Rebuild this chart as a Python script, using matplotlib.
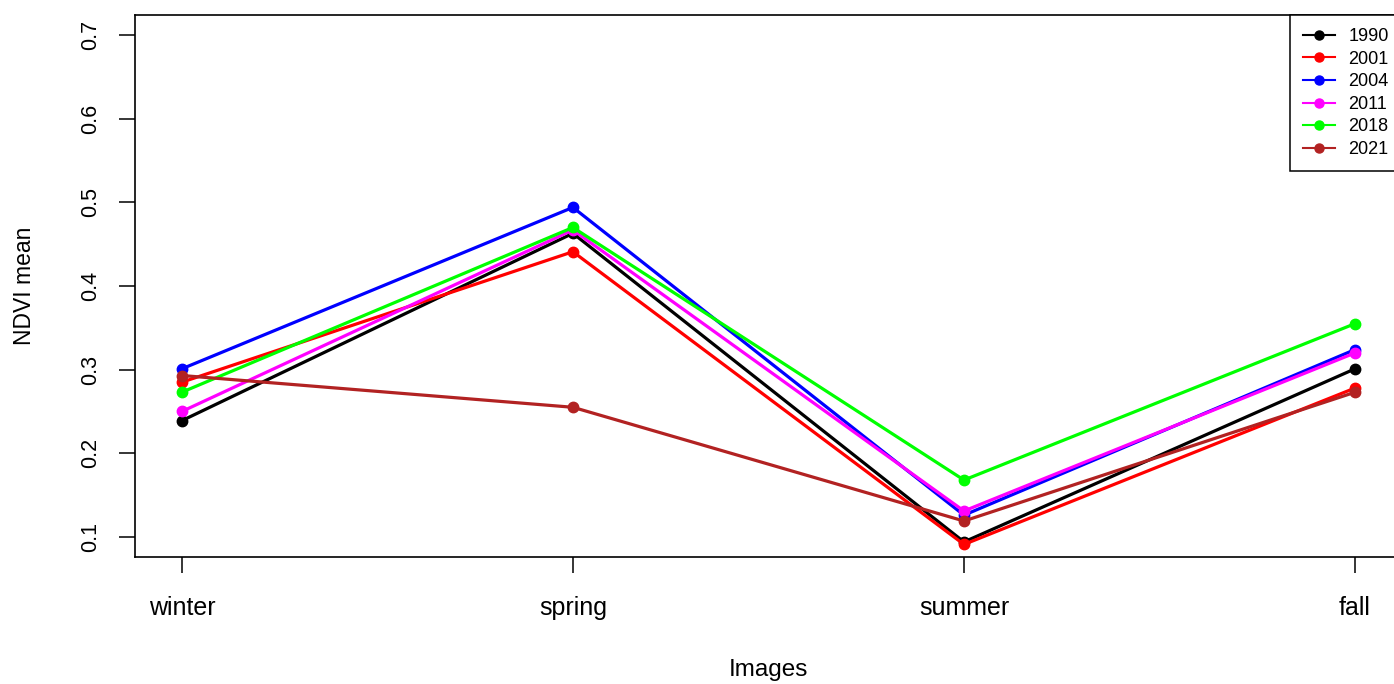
import numpy as np
import matplotlib.pyplot as plt

plt.rcParams['font.family'] = ['Liberation Sans', 'DejaVu Sans']

seasons = ["winter", "spring", "summer", "fall"]
years = ["1990", "2001", "2004", "2011", "2018", "2021"]
colors = ["black", "red", "blue", "magenta", "lime", "#b22222"]

ndvi_1990 = [0.239, 0.463, 0.094, 0.301]
ndvi_2001 = [0.285, 0.441, 0.091, 0.278]
ndvi_2004 = [0.301, 0.494, 0.126, 0.324]
ndvi_2011 = [0.250, 0.467, 0.131, 0.320]
ndvi_2018 = [0.273, 0.470, 0.168, 0.355]
ndvi_2021 = [0.293, 0.255, 0.119, 0.273]
series = [ndvi_1990, ndvi_2001, ndvi_2004, ndvi_2011, ndvi_2018, ndvi_2021]

fig = plt.figure(figsize=(13.94, 6.84), dpi=100)
ax = fig.add_axes([0.0968, 0.1857, 0.9089, 0.7923])

x = np.arange(1, len(seasons) + 1)
for yr, vals, c in zip(years, series, colors):
    ax.plot(x, vals, color=c, linewidth=2.3, marker="o", markersize=7.5, label=yr)

ax.set_xlim(0.88, 4.12)
ax.set_ylim(0.076, 0.724)
ax.set_xticks(x)
ax.set_xticklabels(seasons, fontsize=18)
ax.set_yticks([0.1, 0.2, 0.3, 0.4, 0.5, 0.6, 0.7])
ax.set_yticklabels(["0.1", "0.2", "0.3", "0.4", "0.5", "0.6", "0.7"],
                   rotation=90, va="center", fontsize=15.5)
ax.tick_params(axis="both", direction="out", length=11.5, width=1.1)
ax.tick_params(axis="x", pad=16.5)
ax.tick_params(axis="y", pad=13)
for s in ax.spines.values():
    s.set_linewidth(1.2)

fig.text(768 / 1394, 1 - 670 / 684, "Images", fontsize=17.5, ha="center", va="center")
fig.text(25 / 1394, 1 - 286 / 684, "NDVI mean", fontsize=16.5, rotation=90,
         ha="center", va="center")

leg = ax.legend(loc="upper right", borderaxespad=0, fontsize=13, fancybox=False,
                edgecolor="black", framealpha=1, labelspacing=0.31,
                handlelength=1.8, handletextpad=0.75, borderpad=0.72)
leg.get_frame().set_linewidth(1.1)
for h in leg.legend_handles:
    h.set_linewidth(1.5)
    h.set_markersize(6.5)

fig.savefig("out.png", dpi=100)
